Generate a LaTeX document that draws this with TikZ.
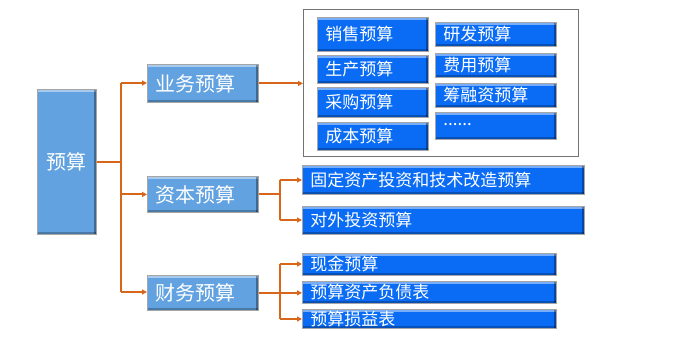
\documentclass[tikz,border=0pt]{standalone}
\usepackage{fontspec}
\newfontfamily\cjk{Noto Sans CJK SC}
\usetikzlibrary{arrows.meta}
\definecolor{lblue}{HTML}{62A2E0}
\definecolor{bblue}{HTML}{0A6CF5}
\definecolor{conn}{HTML}{D8661A}
\tikzset{
  x=1pt,y=-1pt,
  bevel/.style={path picture={
    \fill[white,opacity=0.45] (path picture bounding box.north west) rectangle ([yshift=-2.5pt]path picture bounding box.north east);
    \fill[black,opacity=0.35] ([xshift=-2.5pt]path picture bounding box.north east) rectangle (path picture bounding box.south east);
    \fill[black,opacity=0.25] ([yshift=2pt]path picture bounding box.south west) rectangle (path picture bounding box.south east);
  }},
  lvl/.style={bevel,draw=black!35,line width=0.8pt,fill=lblue,text=white,font=\cjk\fontsize{20}{22}\selectfont,inner sep=0pt,anchor=north west},
  sub/.style={bevel,draw=black!35,line width=0.8pt,fill=bblue,text=white,font=\cjk\fontsize{17}{19}\selectfont,inner ysep=0pt,inner xsep=8pt,anchor=north west,align=left},
  group/.style={draw=black!55,line width=1pt,inner sep=0pt,anchor=north west},
  cline/.style={draw=conn,line width=2pt},
  carrow/.style={cline,-{Triangle[length=5pt,width=5pt]}},
}
\newcommand{\bx}[7]{\node[#7,minimum height=#5-#3,text width=#4-#2-16] (#1) at (#2,#3) {#6};}
\begin{document}
\begin{tikzpicture}
\useasboundingbox (0,0) rectangle (693,359);
% main
\node[lvl,minimum width=59,minimum height=145] (main) at (37,89) {预算};
% level 2
\node[lvl,minimum width=111,minimum height=38,text width=95,inner xsep=8pt,align=left] (yw) at (147,64) {业务预算};
\node[lvl,minimum width=111,minimum height=36,text width=95,inner xsep=8pt,align=left] (zb) at (147,176) {资本预算};
\node[lvl,minimum width=111,minimum height=35,text width=95,inner xsep=8pt,align=left] (cw) at (147,275) {财务预算};
% group box
\node[group,minimum width=275,minimum height=147] (grp) at (303,9) {};
% inner boxes
\bx{xs}{317}{17}{428}{51}{销售预算}{sub}
\bx{sc}{317}{55}{428}{83}{生产预算}{sub}
\bx{cg}{317}{87}{428}{117}{采购预算}{sub}
\bx{cb}{317}{122}{428}{150}{成本预算}{sub}
\bx{yf}{435}{22}{556}{46}{研发预算}{sub}
\bx{fy}{435}{53}{556}{77}{费用预算}{sub}
\bx{cr}{435}{83}{556}{107}{筹融资预算}{sub}
\bx{dd}{435}{112}{556}{139}{\raisebox{2pt}{......}}{sub}
\bx{gd}{302}{165}{584}{194}{固定资产投资和技术改造预算}{sub}
\bx{dw}{302}{206}{584}{234}{对外投资预算}{sub}
\bx{xj}{302}{253}{556}{275}{现金预算}{sub}
\bx{zc}{302}{281}{556}{303}{预算资产负债表}{sub}
\bx{sy}{302}{309}{556}{328}{预算损益表}{sub}
% connectors
\coordinate (t1) at (121,83);
\coordinate (t2) at (121,292);
\draw[cline] (main.east) -- (main.east -| t1);
\draw[cline] (t1) -- (t2);
\draw[carrow] (t1) -- (yw.west |- t1);
\draw[carrow] (zb.west -| t1) -- (zb.west);
\draw[carrow] (t2) -- (cw.west |- t2);
\draw[carrow] (yw.east) -- (grp.west |- yw.east);
% capital
\coordinate (c1) at (280,180);
\coordinate (c2) at (280,220);
\draw[cline] (zb.east) -- (zb.east -| c1);
\draw[cline] (c1) -- (c2);
\draw[carrow] (c1) -- (gd.west |- c1);
\draw[carrow] (c2) -- (dw.west |- c2);
% finance
\coordinate (f1) at (280,264);
\coordinate (f2) at (280,319);
\draw[cline] (cw.east) -- (cw.east -| f1);
\draw[cline] (f1) -- (f2);
\draw[carrow] (f1) -- (xj.west |- f1);
\draw[carrow] (cw.east -| f1) -- (zc.west |- cw.east);
\draw[carrow] (f2) -- (sy.west |- f2);
\end{tikzpicture}
\end{document}
